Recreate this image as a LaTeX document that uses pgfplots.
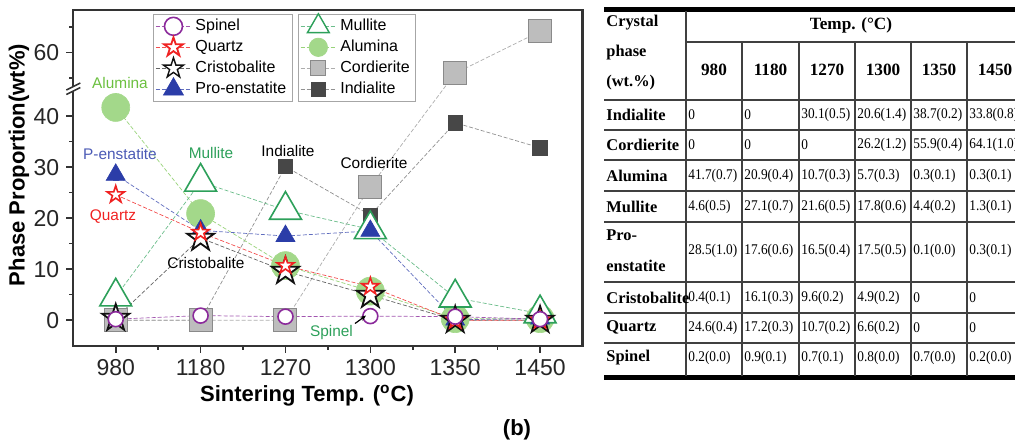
\documentclass[border=0pt]{standalone}
\usepackage{pgfplots}
\pgfplotsset{compat=1.18}
\usepackage{pgfplotstable}
\usepackage{fontspec}
\setmainfont{Liberation Sans}
\newfontfamily\tabfont{Liberation Serif}
\usetikzlibrary{arrows.meta}

\definecolor{cSpinel}{HTML}{8B2A9B}
\definecolor{cQuartz}{HTML}{F02222}
\definecolor{cCristo}{HTML}{111111}
\definecolor{cEnst}{HTML}{2B3DA8}
\definecolor{cMullite}{HTML}{2DA05A}
\definecolor{cAlumina}{HTML}{A3D88A}
\definecolor{cAluminaTxt}{HTML}{6CC040}
\definecolor{cCord}{HTML}{BDBDBD}
\definecolor{cCordEdge}{HTML}{8A8A8A}
\definecolor{cIndia}{HTML}{474747}
\definecolor{cFrame}{HTML}{333333}

% outlined five-pointed star
\pgfdeclareplotmark{ostar}{%
  \pgfpathmoveto{\pgfpointpolar{90}{\pgfplotmarksize}}%
  \pgfpathlineto{\pgfpointpolar{126}{0.382*\pgfplotmarksize}}%
  \pgfpathlineto{\pgfpointpolar{162}{\pgfplotmarksize}}%
  \pgfpathlineto{\pgfpointpolar{198}{0.382*\pgfplotmarksize}}%
  \pgfpathlineto{\pgfpointpolar{234}{\pgfplotmarksize}}%
  \pgfpathlineto{\pgfpointpolar{270}{0.382*\pgfplotmarksize}}%
  \pgfpathlineto{\pgfpointpolar{306}{\pgfplotmarksize}}%
  \pgfpathlineto{\pgfpointpolar{342}{0.382*\pgfplotmarksize}}%
  \pgfpathlineto{\pgfpointpolar{18}{\pgfplotmarksize}}%
  \pgfpathlineto{\pgfpointpolar{54}{0.382*\pgfplotmarksize}}%
  \pgfpathclose
  \pgfusepathqfillstroke}

% phase contents (wt.%) and deviations; x = 0..5 for 980,1180,1270,1300,1350,1450 C
\pgfplotstableread{
x v e
0 0.2 0.0
1 0.9 0.1
2 0.7 0.1
3 0.8 0.0
4 0.7 0.0
5 0.2 0.0
}\spinel
\pgfplotstableread{
x v e
0 24.6 0.4
1 17.2 0.3
2 10.7 0.2
3 6.6 0.2
4 0 0
5 0 0
}\quartz
\pgfplotstableread{
x v e
0 0.4 0.1
1 16.1 0.3
2 9.6 0.2
3 4.9 0.2
4 0 0
5 0 0
}\cristo
\pgfplotstableread{
x v e
0 28.5 1.0
1 17.6 0.6
2 16.5 0.4
3 17.5 0.5
4 0.1 0.0
5 0.3 0.1
}\enst
\pgfplotstableread{
x v e
0 4.6 0.5
1 27.1 0.7
2 21.6 0.5
3 17.8 0.6
4 4.4 0.2
5 1.3 0.1
}\mullite
\pgfplotstableread{
x v e
0 41.7 0.7
1 20.9 0.4
2 10.7 0.3
3 5.7 0.3
4 0.3 0.1
5 0.3 0.1
}\alumina
\pgfplotstableread{
x v e
0 0 0
1 0 0
2 0 0
3 26.2 1.2
4 55.9 0.4
5 64.1 1.0
}\cord
\pgfplotstableread{
x v e
0 0 0
1 0 0
2 30.1 0.5
3 20.6 1.4
4 38.7 0.2
5 33.8 0.8
}\india

\pgfplotsset{
  link/.style={line width=0.35pt, dash pattern=on 2pt off 1pt},
  ebar/.style={error bars/y dir=both, error bars/y explicit,
    error bars/error bar style={line width=0.35pt, solid, opacity=1},
    error bars/error mark options={rotate=90, mark size=1.4pt, line width=0.35pt, solid}},
  frame/.style={at={(36.65pt,-172.85pt)}, anchor=south west,
    width=254.6pt, height=167.85pt, scale only axis,
    xmin=-0.5, xmax=5.5, ymin=-5, ymax=60.8},
  lgd/.style={legend style={font=\fontsize{8}{9.5}\selectfont, draw=gray!70,
    line width=0.5pt, inner xsep=1pt, inner ysep=1.5pt, row sep=1.7pt,
    nodes={inner ysep=0.5pt, text height=6pt, text depth=1.8pt},
    cells={anchor=west}, at={(#1,0.988)}, anchor=north west},
    legend image code/.code={%
      \draw[##1, mark=none] (0cm,0cm) -- (0.62cm,0cm);
      \draw[##1, only marks, overlay] plot coordinates {(0.31cm,0cm)};}},
}

\newcommand{\N}[1]{\scalebox{0.9}[1]{#1}}

\begin{document}
\begin{tikzpicture}
\useasboundingbox (0,0) rectangle (507.5pt,-223pt);

\begin{axis}[frame, lgd=0.1565,
  axis line style={cFrame, line width=1.1pt},
  tick pos=left, tick align=outside,
  major tick length=3.5pt, minor tick length=2pt,
  tick style={cFrame, line width=0.8pt},
  xtick={0,...,5}, xticklabels={980,1180,1270,1300,1350,1450},
  minor xtick={0.5,1.5,2.5,3.5,4.5},
  ytick={0,10,20,30,40,52.5}, yticklabels={0,10,20,30,40,60},
  minor ytick={5,15,25,35,47.5,57.5},
  ticklabel style={font=\fontsize{11.5}{12}\selectfont, text=black!85},
  /pgf/number format/assume math mode=true,
]
% drawing order: first listed sits at the back
\addplot[forget plot, color=cIndia!60, link, mark=square*, mark size=3.6pt,
  mark options={solid, fill=cIndia, draw=cIndia, line width=0.4pt}, ebar]
  table[x=x, y=v, y error=e] {\india};
% values above the axis break are shifted down by 7.5
\addplot[forget plot, color=cCordEdge!70, link, mark=square*, mark size=5.75pt,
  mark options={solid, fill=cCord, draw=cCordEdge, line width=0.5pt}, ebar]
  table[x=x, y expr={ifthenelse(\thisrow{v}>49, \thisrow{v}-7.5, \thisrow{v})}, y error=e] {\cord};
\addplot[forget plot, color=cAluminaTxt!70, link, mark=*, mark size=7pt,
  mark options={solid, fill=cAlumina, draw=cAlumina, line width=0.3pt}, ebar]
  table[x=x, y=v, y error=e] {\alumina};
\addplot[forget plot, color=cMullite!70, link, mark=triangle*, mark size=9.2pt,
  mark options={solid, fill=white, draw=cMullite, line width=0.8pt}, ebar]
  table[x=x, y=v, y error=e] {\mullite};
\addplot[forget plot, color=cEnst!75, link, mark=triangle*, mark size=5.5pt,
  mark options={solid, fill=cEnst, draw=cEnst, line width=0.3pt}, ebar]
  table[x=x, y=v, y error=e] {\enst};
\addplot[forget plot, color=cCristo!65, link, mark=ostar, mark size=7.1pt,
  mark options={solid, fill=white, draw=cCristo, line width=0.9pt}, ebar]
  table[x=x, y=v, y error=e] {\cristo};
\addplot[forget plot, color=cQuartz!80, link, mark=ostar, mark size=4.5pt,
  mark options={solid, fill=white, draw=cQuartz, line width=0.8pt}, ebar]
  table[x=x, y=v, y error=e] {\quartz};
\addplot[forget plot, color=cSpinel!80, link, mark=*, mark size=3.75pt,
  mark options={solid, fill=white, draw=cSpinel, line width=0.8pt}, ebar]
  table[x=x, y=v, y error=e] {\spinel};

\addlegendimage{color=cSpinel!80, link, mark=*, mark size=4.5pt, mark options={solid, fill=white, draw=cSpinel, line width=0.8pt}}
\addlegendentry{Spinel}
\addlegendimage{color=cQuartz!80, link, mark=ostar, mark size=5pt, mark options={solid, fill=white, draw=cQuartz, line width=0.9pt}}
\addlegendentry{Quartz}
\addlegendimage{color=cCristo!65, link, mark=ostar, mark size=5.3pt, mark options={solid, fill=white, draw=cCristo, line width=0.7pt}}
\addlegendentry{Cristobalite}
\addlegendimage{color=cEnst!75, link, mark=triangle*, mark size=5.8pt, mark options={solid, fill=cEnst, draw=cEnst}}
\addlegendentry{Pro-enstatite}
\end{axis}

% second legend box
\begin{axis}[frame, lgd=0.441, hide axis]
\addlegendimage{color=cMullite!70, link, mark=triangle*, mark size=6.3pt, mark options={solid, fill=white, draw=cMullite, line width=0.7pt}}
\addlegendentry{Mullite}
\addlegendimage{color=cAluminaTxt!70, link, mark=*, mark size=4.6pt, mark options={solid, fill=cAlumina, draw=cAlumina}}
\addlegendentry{Alumina}
\addlegendimage{color=cCordEdge!70, link, mark=square*, mark size=3.7pt, mark options={solid, fill=cCord, draw=cCordEdge, line width=0.5pt}}
\addlegendentry{Cordierite}
\addlegendimage{color=cIndia!60, link, mark=square*, mark size=3.7pt, mark options={solid, fill=cIndia, draw=cIndia}}
\addlegendentry{Indialite}
\end{axis}

\begin{scope}[x=0.5pt, y=-0.5pt]
  % axis break
  \fill[white] (70.5,86.3) rectangle (76.5,90.8);
  \draw[cFrame, line width=0.8pt] (66.3,90) -- (80.3,83);
  \draw[cFrame, line width=0.8pt] (66.3,94.5) -- (80.3,87.5);

  % axis titles
  \node[font=\bfseries\fontsize{11}{12}\selectfont, rotate=90] at (19,165) {Phase Proportion(wt\%)};
  \node[font=\bfseries\fontsize{11}{12}\selectfont] at (307,396) {Sintering Temp. (\textsuperscript{o}C)};
  \node[font=\bfseries\fontsize{11}{12}\selectfont] at (517,430) {(b)};

  % phase annotations
  \begin{scope}[every node/.style={font=\fontsize{7.7}{9}\selectfont, inner sep=0pt}]
    \node[text=cAluminaTxt] at (120,83) {Alumina};
    \node[text=cEnst!85] at (120,154) {P-enstatite};
    \node[text=cQuartz] at (113,217) {Quartz};
    \node[text=cMullite] at (211,153) {Mullite};
    \node[text=black] at (288,151) {Indialite};
    \node[text=black] at (374,163) {Cordierite};
    \node[text=black] at (206,263) {Cristobalite};
    \node[text=cMullite] at (331.5,333) {Spinel};
  \end{scope}
  \draw[black, line width=0.6pt, -{Stealth[length=3pt, width=2.5pt]}] (355,323.5) -- (366,315.5);

  % table of phase contents (its right edge runs past the page)
  \begin{scope}
    \clip (0,0) rectangle (1015,446);
    \tikzset{rule/.style={line width=0.55pt, black!75},
      lab/.style={anchor=west, inner sep=0pt, font=\tabfont\bfseries\fontsize{8.2}{9}\selectfont},
      hd/.style={inner sep=0pt, font=\tabfont\bfseries\fontsize{8.6}{9}\selectfont},
      num/.style={anchor=west, inner sep=0pt, font=\tabfont\fontsize{7.4}{8}\selectfont}}
    \draw[line width=2.4pt] (604,9.5) -- (1015,9.5);
    \draw[line width=2.4pt] (604,377.5) -- (1015,377.5);
    \draw[rule] (686,42) -- (1015,42);
    \foreach \yy in {100,130,160,191,222,282,313,343} \draw[rule] (604,\yy) -- (1015,\yy);
    \draw[rule] (686,11) -- (686,376);
    \foreach \xx in {742,799,855,911,967} \draw[rule] (\xx,42) -- (\xx,376);

    \node[lab] at (606,23) {Crystal};
    \node[lab] at (606,53) {phase};
    \node[lab] at (606,83) {(wt.\%)};
    \node[hd] at (851,25) {Temp. (°C)};
    \foreach \cx/\t in {714/980, 770.5/1180, 827/1270, 883/1300, 939/1350, 995/1450}
      \node[hd] at (\cx,70) {\t};

    \newcommand{\trow}[8]{%
      \node[num] at (688,#1) {\N{#3}};
      \node[num] at (744,#1) {\N{#4}};
      \node[num] at (801,#1) {\N{#5}};
      \node[num] at (857,#1) {\N{#6}};
      \node[num] at (913,#1) {\N{#7}};
      \node[num] at (969,#1) {\N{#8}};
      \node[lab] at (606,#1) {#2};}
    \trow{115}{Indialite}{0}{0}{30.1(0.5)}{20.6(1.4)}{38.7(0.2)}{33.8(0.8)}
    \trow{145}{Cordierite}{0}{0}{0}{26.2(1.2)}{55.9(0.4)}{64.1(1.0)}
    \trow{175.5}{Alumina}{41.7(0.7)}{20.9(0.4)}{10.7(0.3)}{5.7(0.3)}{0.3(0.1)}{0.3(0.1)}
    \trow{206.5}{Mullite}{4.6(0.5)}{27.1(0.7)}{21.6(0.5)}{17.8(0.6)}{4.4(0.2)}{1.3(0.1)}
    \trow{251}{}{28.5(1.0)}{17.6(0.6)}{16.5(0.4)}{17.5(0.5)}{0.1(0.0)}{0.3(0.1)}
    \node[lab] at (606,235) {Pro-};
    \node[lab] at (606,266) {enstatite};
    \trow{298}{Cristobalite}{0.4(0.1)}{16.1(0.3)}{9.6(0.2)}{4.9(0.2)}{0}{0}
    \trow{327.5}{Quartz}{24.6(0.4)}{17.2(0.3)}{10.7(0.2)}{6.6(0.2)}{0}{0}
    \trow{357.5}{Spinel}{0.2(0.0)}{0.9(0.1)}{0.7(0.1)}{0.8(0.0)}{0.7(0.0)}{0.2(0.0)}
  \end{scope}
\end{scope}
\end{tikzpicture}
\end{document}
